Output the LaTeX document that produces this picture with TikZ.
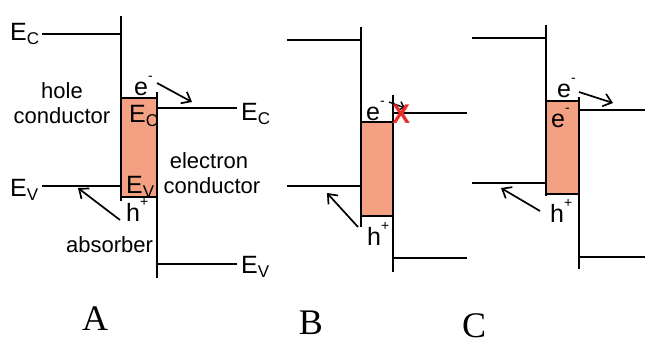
\documentclass[tikz,border=0pt]{standalone}
\usepackage{fontspec}
\setmainfont{Liberation Sans}
\newfontfamily\seriffont{Liberation Serif}
\usetikzlibrary{arrows.meta}
\definecolor{absfill}{RGB}{243,160,131}
\definecolor{xred}{RGB}{232,45,40}
\newcommand\myup[1]{\raisebox{15pt}{\fontsize{14}{14}\selectfont #1}}
\newcommand\mydn[1]{\raisebox{-4pt}{\fontsize{17}{17}\selectfont #1}}
\newcommand\lev[1]{{\fontsize{25}{25}\selectfont E}\mydn{#1}}
\newcommand\carr[2]{{\fontsize{25}{25}\selectfont #1}\myup{#2}}
\begin{document}
\begin{tikzpicture}[x=1pt,y=-1pt,
  band/.style={line width=1.8pt},
  absbox/.style={draw, line width=1.8pt, fill=absfill},
  lbl/.style={inner sep=0pt, anchor=base west},
  ctr/.style={inner sep=0pt, anchor=base, font=\fontsize{22}{22}\selectfont},
  carrier/.style={line width=1.7pt, -{Straight Barb[length=8pt,width=13pt]}},
  panel/.style={inner sep=0pt, anchor=base, font=\seriffont\fontsize{36}{36}\selectfont}]
\useasboundingbox (0,0) rectangle (645,338);

% ---------- Panel A ----------
\draw[absbox] (121,98) rectangle (157,197);
\draw[band] (42,34) -- (121,34);
\draw[band] (121,16) -- (121,201);
\draw[band] (42,186) -- (121,186);
\draw[band] (157,92) -- (157,278);
\draw[band] (157,108) -- (237,108);
\draw[band] (157,264) -- (237,264);

\node[lbl] (aEcL) at (10,40) {\lev{C}};
\node[ctr] (ahole) at (62,98) {hole};
\node[ctr] (ahcond) at (62,123) {conductor};
\node[lbl] (ae) at (134,95) {\carr{e}{-}};
\node[lbl] (aEcB) at (129,122) {\lev{C}};
\node[lbl] (aEcR) at (241,120) {\lev{C}};
\node[ctr] (aelec) at (209,168) {electron};
\node[ctr] (aecond) at (212,193) {conductor};
\node[lbl] (aEvB) at (126,193) {\lev{V}};
\node[lbl] (aEvL) at (10,196) {\lev{V}};
\node[lbl] (ah) at (126,221) {\carr{h}{+}};
\node[ctr, anchor=base west] (aabs) at (66,252) {absorber};
\node[lbl] (aEvR) at (241,273) {\lev{V}};

\coordinate (aeS) at (157,83);
\coordinate (aeT) at (192,102);
\coordinate (ahS) at (120,220);
\coordinate (ahT) at (78,188);
\draw[carrier] (aeS) -- (aeT);
\draw[carrier] (ahS) -- (ahT);

% ---------- Panel B ----------
\draw[absbox] (361,122) rectangle (393,216);
\draw[band] (287,40) -- (361,40);
\draw[band] (361,27) -- (361,227);
\draw[band] (287,186) -- (361,186);
\draw[band] (393,95) -- (393,272);
\draw[band] (393,113) -- (467,113);
\draw[band] (393,258) -- (467,258);

\node[lbl] (be) at (366,120) {\carr{e}{-}};
\node[lbl] (bh) at (367,245) {\carr{h}{+}};
\coordinate (beS) at (389,102);
\coordinate (beT) at (405,108);
\coordinate (bhS) at (358,227);
\coordinate (bhT) at (327,193);
\draw[line width=1.4pt, -{Straight Barb[length=5pt,width=9pt]}] (beS) -- (beT);
\draw[carrier] (bhS) -- (bhT);
\node[inner sep=0pt, text=xred, font=\bfseries\fontsize{27}{27}\selectfont] (bx) at (401,114) {X};

% ---------- Panel C ----------
\draw[absbox] (546,101) rectangle (579,194);
\draw[band] (472,38) -- (546,38);
\draw[band] (546,25) -- (546,196);
\draw[band] (472,183) -- (546,183);
\draw[band] (579,97) -- (579,269);
\draw[band] (579,110) -- (645,110);
\draw[band] (579,257) -- (645,257);

\node[lbl] (ce) at (557,97) {\carr{e}{-}};
\node[lbl] (ceB) at (551,127) {\carr{e}{-}};
\node[lbl] (ch) at (550,222) {\carr{h}{+}};
\coordinate (ceS) at (579,92);
\coordinate (ceT) at (613,103);
\coordinate (chS) at (540,211);
\coordinate (chT) at (501,188);
\draw[carrier] (ceS) -- (ceT);
\draw[carrier] (chS) -- (chT);

% ---------- panel letters ----------
\node[panel] (pA) at (95,330) {A};
\node[panel] (pB) at (311,334) {B};
\node[panel] (pC) at (474,337) {C};
\end{tikzpicture}
\end{document}
